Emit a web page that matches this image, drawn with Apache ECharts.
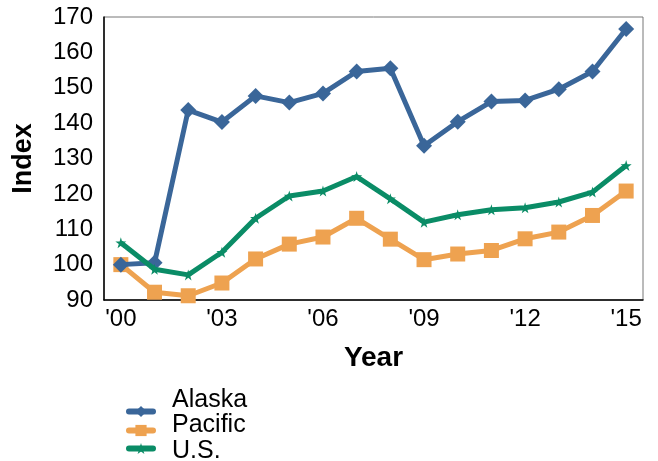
<!DOCTYPE html>
<html><head><meta charset="utf-8">
<script src="https://cdn.jsdelivr.net/npm/echarts@6/dist/echarts.min.js"></script>
<style>html,body{margin:0;padding:0;background:#fff}#c{width:658px;height:461px}</style>
</head><body><div id="c"></div>
<script>
var years = ["'00","'01","'02","'03","'04","'05","'06","'07","'08","'09","'10","'11","'12","'13","'14","'15"];
var alaska = [100, 100.5, 143.7, 140.3, 147.7, 145.8, 148.4, 154.6, 155.5, 133.6, 140.4, 146.1, 146.4, 149.6, 154.6, 166.6];
var pacific = [100, 92.2, 91.2, 94.8, 101.6, 105.8, 107.8, 113.1, 107.2, 101.4, 103, 104, 107.3, 109.2, 113.9, 120.8];
var us = [106.2, 98.7, 97.1, 103.5, 113.1, 119.4, 120.8, 124.9, 118.6, 112, 114.1, 115.5, 116.1, 117.7, 120.5, 128];
var yTicks = [90, 100, 110, 120, 130, 140, 150, 160, 170];
var seriesNames = ['Alaska', 'Pacific', 'U.S.'];

var star = 'path://M50,0 L61,35 L98,35 L68,57 L79,91 L50,70 L21,91 L32,57 L2,35 L39,35 Z';
var font = 'Liberation Sans, Arial, sans-serif';
function leg(name, top, padT, padB) {
  return {orient: 'vertical', left: 121, top: top, itemWidth: 24, itemHeight: 14,
    lineStyle: {width: 6, cap: 'round'},
    formatter: function (n) { return '{t|' + n + '}'; },
    textStyle: {fontFamily: font, fontSize: 25, color: '#000',
      rich: {t: {fontFamily: font, fontSize: 25, color: '#000', padding: [padT, 0, padB, 14]}}},
    data: [name], selectedMode: false};
}
var chart = echarts.init(document.getElementById('c'));
chart.setOption({
  animation: false,
  grid: {left: 104, right: 15, top: 17, bottom: 161, show: true, borderColor: '#777', borderWidth: 1},
  xAxis: {
    type: 'category', data: years, boundaryGap: true,
    name: 'Year', nameLocation: 'middle', nameGap: 44,
    nameTextStyle: {fontFamily: font, fontSize: 28, fontWeight: 'bold', color: '#000'},
    axisLine: {lineStyle: {color: '#000', width: 1.5}},
    axisTick: {show: false},
    axisLabel: {interval: 2, fontFamily: font, fontSize: 24, color: '#000', margin: 7}
  },
  yAxis: {
    type: 'value', min: yTicks[0], max: yTicks[yTicks.length-1], interval: 10,
    name: 'Index', nameLocation: 'middle', nameGap: 67,
    nameTextStyle: {fontFamily: font, fontSize: 27, fontWeight: 'bold', color: '#000'},
    axisLine: {show: true, lineStyle: {color: '#000', width: 1.5}},
    axisTick: {show: false},
    splitLine: {show: false},
    axisLabel: {fontFamily: font, fontSize: 24, color: '#000', margin: 11}
  },
  legend: [leg(seriesNames[0], 383, 0, 22), leg(seriesNames[1], 408, 0, 10), leg(seriesNames[2], 434, 6, 0)],
  series: [
    {name: seriesNames[0], type: 'line', data: alaska, symbol: 'diamond', symbolSize: 16,
     lineStyle: {width: 5, color: '#3a6699'}, itemStyle: {color: '#3a6699'}, z: 3},
    {name: seriesNames[1], type: 'line', data: pacific, symbol: 'rect', symbolSize: 15,
     lineStyle: {width: 5, color: '#eea250'}, itemStyle: {color: '#eea250'}, z: 2},
    {name: seriesNames[2], type: 'line', data: us, symbol: star, symbolSize: 11,
     lineStyle: {width: 5, color: '#0a8c66'}, itemStyle: {color: '#0a8c66'}, z: 4}
  ]
});
</script></body></html>
